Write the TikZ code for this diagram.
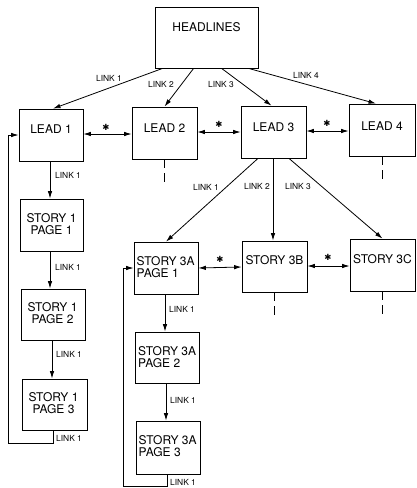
\documentclass[tikz,border=0pt]{standalone}
\usepackage{fontspec}
\setmainfont{TeX Gyre Heros}
\newfontfamily\symf{DejaVu Sans}
\usetikzlibrary{arrows.meta,calc}
\begin{document}
\begin{tikzpicture}[x=1pt,y=-1pt,
  box/.style={draw,line width=0.8pt,inner sep=0pt},
  txt/.style={inner sep=0pt,font=\fontsize{12}{11.5}\selectfont,align=center},
  ltxt/.style={inner sep=0pt,font=\fontsize{12}{11.5}\selectfont,align=left,anchor=west},
  lnk/.style={inner sep=0pt,font=\fontsize{8.4}{8.4}\selectfont},
  ast/.style={inner sep=0pt,font=\symf\fontsize{8.5}{8.5}\selectfont},
  arr/.style={line width=0.8pt,-{Latex[length=7.5pt,width=4.5pt]}},
  dbl/.style={line width=0.8pt,{Latex[length=7.5pt,width=4.5pt]}-{Latex[length=7.5pt,width=4.5pt]}},
  stub/.style={line width=0.8pt,dash pattern=on 9pt off 5pt}]
\useasboundingbox (0,0) rectangle (416,488);
% boxes
\node[box,minimum width=103,minimum height=61] (hl) at (206.5,37.5) {};
\node[box,minimum width=64,minimum height=52] (l1) at (51,135) {};
\node[box,minimum width=65,minimum height=52] (l2) at (164.5,133) {};
\node[box,minimum width=65,minimum height=52] (l3) at (273.5,132) {};
\node[box,minimum width=66,minimum height=52] (l4) at (382,130) {};
\node[box,minimum width=63,minimum height=52] (s11) at (51.5,225) {};
\node[box,minimum width=64,minimum height=51] (s12) at (53,314.5) {};
\node[box,minimum width=65,minimum height=51] (s13) at (54.5,404.5) {};
\node[box,minimum width=64,minimum height=52] (a1) at (166,268) {};
\node[box,minimum width=64,minimum height=51] (a2) at (167,357.5) {};
\node[box,minimum width=64,minimum height=53] (a3) at (168,447.5) {};
\node[box,minimum width=65,minimum height=51] (b) at (274.5,266.5) {};
\node[box,minimum width=65,minimum height=52] (c) at (382.5,265) {};
% texts
\node[txt] (thl) at (206.5,27) {HEADLINES};
\node[txt] (tl1) at (51,129) {LEAD 1};
\node[txt] (tl2) at (164.5,128) {LEAD 2};
\node[txt] (tl3) at (273.5,127) {LEAD 3};
\node[txt] (tl4) at (382,126) {LEAD 4};
\node[txt] (ts11) at (51.5,224) {STORY 1\\PAGE 1};
\node[txt] (ts12) at (52.5,313) {STORY 1\\PAGE 2};
\node[txt] (ts13) at (53.5,403) {STORY 1\\PAGE 3};
\node[ltxt] (ta1) at (136.5,267) {STORY 3A\\PAGE 1};
\node[ltxt] (ta2) at (138,357) {STORY 3A\\PAGE 2};
\node[ltxt] (ta3) at (138.5,446) {STORY 3A\\PAGE 3};
\node[txt] (tb) at (274.5,260) {STORY 3B};
\node[txt] (tc) at (382.5,259) {STORY 3C};
% headline links
\draw[arr] ($(hl.south west)+(8,0)$) -- ($(l1.north)+(2,0)$);
\draw[arr] ($(hl.south west)+(39,0)$) -- (l2.north);
\draw[arr] ($(hl.south west)+(67,0)$) -- ($(l3.north)+(-2,0)$);
\draw[arr] ($(hl.south west)+(94,0)$) -- ($(l4.north)+(-6,0)$);
\node[lnk] (k1) at (109,78) {LINK 1};
\node[lnk] (k2) at (161,84) {LINK 2};
\node[lnk] (k3) at (221,84) {LINK 3};
\node[lnk] (k4) at (306,75) {LINK 4};
% lead double arrows
\draw[dbl] ($(l1.east)+(0,-1)$) -- ($(l2.west)+(0,1)$);
\draw[dbl] ($(l2.east)+(0,-1)$) -- ($(l3.west)+(0,0)$);
\draw[dbl] ($(l3.east)+(0,-1)$) -- ($(l4.west)+(0,1)$);
\node[ast] (as1) at (106,127) {✱};
\node[ast] (as2) at (219,124) {✱};
\node[ast] (as3) at (327,123) {✱};
% stubs
\draw[stub] (l2.south) -- ++(0,26) coordinate (e2);
\draw[stub] (l4.south) -- ++(0,27) coordinate (e4);
\draw[stub] (b.south) -- ++(0,27) coordinate (eb);
\draw[stub] (c.south) -- ++(0,27) coordinate (ec);
% story 1 chain
\draw[arr] ($(l1.south)+(-1,0)$) -- ($(s11.north)+(-1.5,0)$);
\draw[arr] ($(s11.south)+(-1.5,0)$) -- ($(s12.north)+(-3,0)$);
\draw[arr] ($(s12.south)+(-1,0)$) -- ($(s13.north)+(-2.5,0)$);
\node[lnk,anchor=west] (k5) at (55,175) {LINK 1};
\node[lnk,anchor=west] (k6) at (55,267) {LINK 1};
\node[lnk,anchor=west] (k7) at (56,354) {LINK 1};
\draw[arr] ($(s13.south)+(-1.5,0)$) |- (8,443) coordinate (r1) |- (l1.west);
\node[lnk,anchor=west] (k8) at (56,438) {LINK 1};
% lead 3 to stories
\draw[arr] ($(l3.south)+(-15.5,0)$) -- (a1.north);
\draw[arr] ($(l3.south)+(-0.5,0)$) -- ($(b.north)+(-1.5,0)$);
\draw[arr] ($(l3.south)+(15.5,0)$) -- (c.north);
\node[lnk] (k9) at (206,187) {LINK 1};
\node[lnk] (k10) at (257,186) {LINK 2};
\node[lnk] (k11) at (298,186) {LINK 3};
\draw[dbl] (a1.east) -- ($(b.west)+(0,0.5)$);
\draw[dbl] ($(b.east)+(0,-0.5)$) -- ($(c.west)+(0,1)$);
\node[ast] (as4) at (220,259) {✱};
\node[ast] (as5) at (328,257) {✱};
% story 3A chain
\draw[arr] ($(a1.south)+(-1,0)$) -- ($(a2.north)+(-2,0)$);
\draw[arr] ($(a2.south)+(-1,0)$) -- ($(a3.north)+(-2,0)$);
\node[lnk,anchor=west] (k12) at (169,309) {LINK 1};
\node[lnk,anchor=west] (k13) at (170,400) {LINK 1};
\draw[arr] ($(a3.south)+(-1,0)$) |- (123,486) coordinate (r2) |- (a1.west);
\node[lnk,anchor=west] (k14) at (170,482) {LINK 1};
\end{tikzpicture}
\end{document}
